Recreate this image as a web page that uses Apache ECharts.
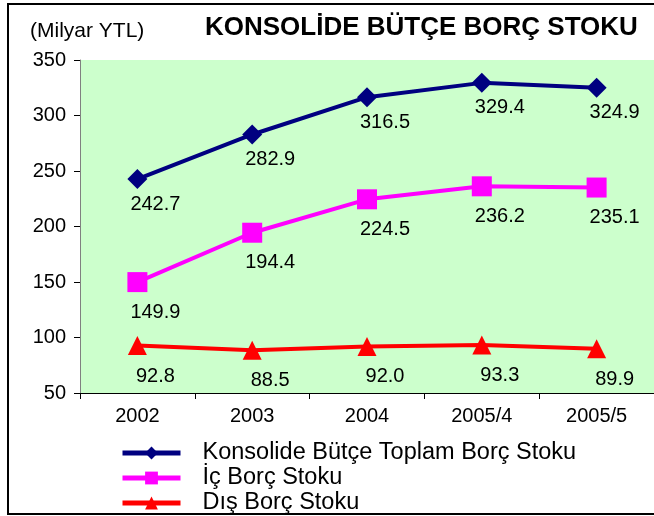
<!DOCTYPE html>
<html>
<head>
<meta charset="utf-8">
<script src="https://cdn.jsdelivr.net/npm/echarts@6/dist/echarts.min.js"></script>
<style>
  html, body { margin: 0; padding: 0; background: #fff; }
  #main { width: 654px; height: 516px; }
</style>
</head>
<body>
<div id="main"></div>
<script>
var categories = ['2002', '2003', '2004', '2005/4', '2005/5'];
var toplamStok = [242.7, 282.9, 316.5, 329.4, 324.9];
var icStok = [149.9, 194.4, 224.5, 236.2, 235.1];
var disStok = [92.8, 88.5, 92.0, 93.3, 89.9];
var seriesNames = ['Konsolide Bütçe Toplam Borç Stoku', 'İç Borç Stoku', 'Dış Borç Stoku'];

var FONT = '"Liberation Sans", Arial, sans-serif';

var chart = echarts.init(document.getElementById('main'), null, { renderer: 'canvas' });

function makeSeries(name, data, color, symbol, size, labelGap) {
  return {
    name: name,
    type: 'line',
    data: data,
    symbol: symbol,
    symbolSize: size,
    lineStyle: { color: color, width: 4 },
    itemStyle: { color: color },
    label: {
      show: true,
      position: 'bottom',
      distance: labelGap,
      offset: [18, 0],
      color: '#000',
      fontFamily: FONT,
      fontSize: 20,
      formatter: function (p) { return p.value.toFixed(1); }
    },
    emphasis: { disabled: true }
  };
}

var option = {
  animation: false,
  backgroundColor: '#fff',
  textStyle: { fontFamily: FONT },
  graphic: [
    {
      type: 'rect',
      shape: { x: 8, y: 4, width: 700, height: 510 },
      style: { fill: 'none', stroke: '#000', lineWidth: 2 },
      z: 100
    },
    {
      type: 'text',
      left: 30, top: 21,
      style: { text: '(Milyar YTL)', fontFamily: FONT, fontSize: 21, fill: '#000' }
    },
    {
      type: 'text',
      left: 205, top: 15,
      style: { text: 'KONSOLİDE BÜTÇE BORÇ STOKU', fontFamily: FONT, fontSize: 26, fontWeight: 'bold', fill: '#000' }
    }
  ],
  legend: {
    orient: 'vertical',
    left: 120,
    top: 441,
    padding: 0,
    itemWidth: 58,
    itemHeight: 16,
    itemGap: 1,
    data: seriesNames,
    lineStyle: { width: 5 },
    textStyle: { fontFamily: FONT, fontSize: 23.5, lineHeight: 23, color: '#000', padding: [0, 0, 0, 17] }
  },
  grid: {
    left: 80, top: 60, width: 580, height: 333,
    show: true, backgroundColor: '#CCFFCC', borderWidth: 0
  },
  xAxis: {
    type: 'category',
    data: categories,
    boundaryGap: true,
    axisLine: { lineStyle: { color: '#000', width: 1 } },
    axisTick: { show: true, length: 6, lineStyle: { color: '#000' } },
    axisLabel: { color: '#000', fontFamily: FONT, fontSize: 20, margin: 13 }
  },
  yAxis: {
    type: 'value',
    min: 50, max: 350, interval: 50,
    axisLine: { show: true, lineStyle: { color: '#808080', width: 1 } },
    axisTick: { show: true, length: 6, lineStyle: { color: '#000' } },
    splitLine: { show: false },
    axisLabel: { color: '#000', fontFamily: FONT, fontSize: 20, margin: 14 }
  },
  series: [
    makeSeries(seriesNames[0], toplamStok, '#000080', 'diamond', 20, 5),
    makeSeries(seriesNames[1], icStok, '#FF00FF', 'rect', 20, 10),
    makeSeries(seriesNames[2], disStok, '#FF0000', 'triangle', 19, 11)
  ]
};

chart.setOption(option);
</script>
</body>
</html>
